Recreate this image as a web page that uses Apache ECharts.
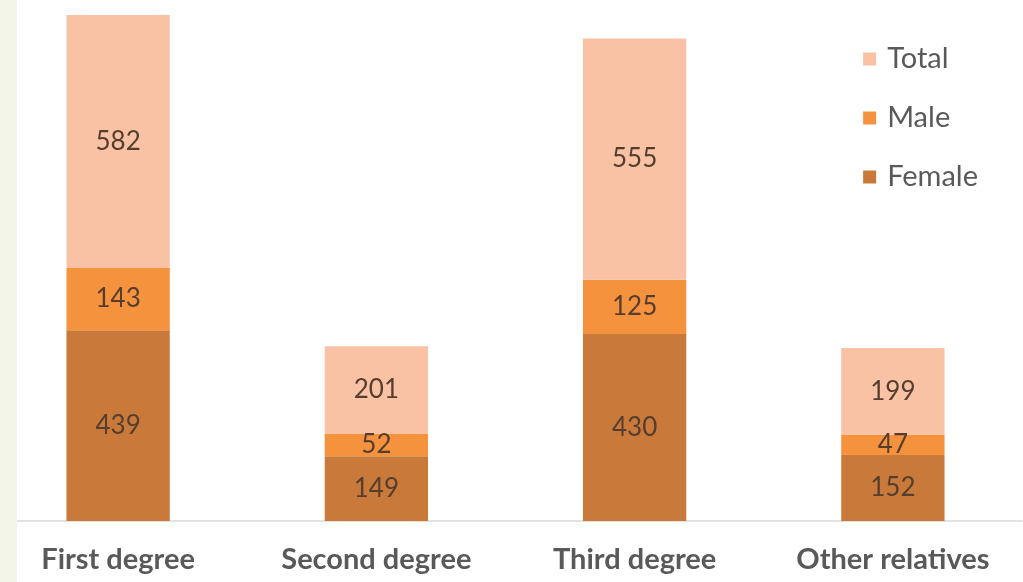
<!DOCTYPE html>
<html>
<head>
<meta charset="utf-8">
<script src="https://cdn.jsdelivr.net/npm/echarts@6/dist/echarts.min.js"></script>
<style>
  html, body { margin: 0; padding: 0; background: #ffffff; overflow: hidden; }
  /* the plot runs slightly past the left edge of the page */
  #chart { width: 1034px; height: 582px; margin-left: -11px; }
</style>
</head>
<body>
<div id="chart"></div>
<script>
// Relatives by degree, stacked: female at the base, then male, then total
const categories = ['First degree', 'Second degree', 'Third degree', 'Other relatives'];
const female = [439, 149, 430, 152];
const male = [143, 52, 125, 47];
const total = [582, 201, 555, 199];

const labelFont = 'Lato, "Open Sans", sans-serif';
const segLabel = {
  show: true,
  position: 'inside',
  color: '#563e2e',
  fontSize: 26,
  fontFamily: labelFont
};

const chart = echarts.init(document.getElementById('chart'));
chart.setOption({
  animation: false,
  backgroundColor: '#ffffff',
  grid: { left: 0, right: 1, top: 15, bottom: 61, containLabel: false },
  legend: {
    orient: 'vertical',
    right: 40,
    top: 38,
    itemGap: 27,
    itemWidth: 13,
    itemHeight: 13,
    icon: 'rect',
    textStyle: { color: '#595959', fontSize: 29, lineHeight: 32, fontFamily: labelFont, padding: [0, 0, 0, 6] },
    data: ['Total', 'Male', 'Female']
  },
  xAxis: {
    type: 'category',
    data: categories,
    axisLine: { lineStyle: { color: '#d9d9d9', width: 1.5 } },
    axisTick: { show: false },
    axisLabel: {
      color: '#595959',
      fontSize: 29,
      fontWeight: 'bold',
      fontFamily: labelFont,
      margin: 24
    }
  },
  yAxis: {
    type: 'value',
    min: 0,
    max: 1164,
    show: false,
    splitLine: { show: false }
  },
  series: [
    { name: 'Female', type: 'bar', stack: 's', data: female, barWidth: '40%',
      itemStyle: { color: '#c97a3a' }, label: segLabel },
    { name: 'Male', type: 'bar', stack: 's', data: male, barWidth: '40%',
      itemStyle: { color: '#f5923d' }, label: segLabel },
    { name: 'Total', type: 'bar', stack: 's', data: total, barWidth: '40%',
      itemStyle: { color: '#f9c2a4' }, label: segLabel }
  ],
  graphic: [
    { type: 'rect', left: 11, top: 0, z: 100,
      shape: { width: 17, height: 582 },
      style: { fill: '#f3f5e9' } }
  ]
});
</script>
</body>
</html>
